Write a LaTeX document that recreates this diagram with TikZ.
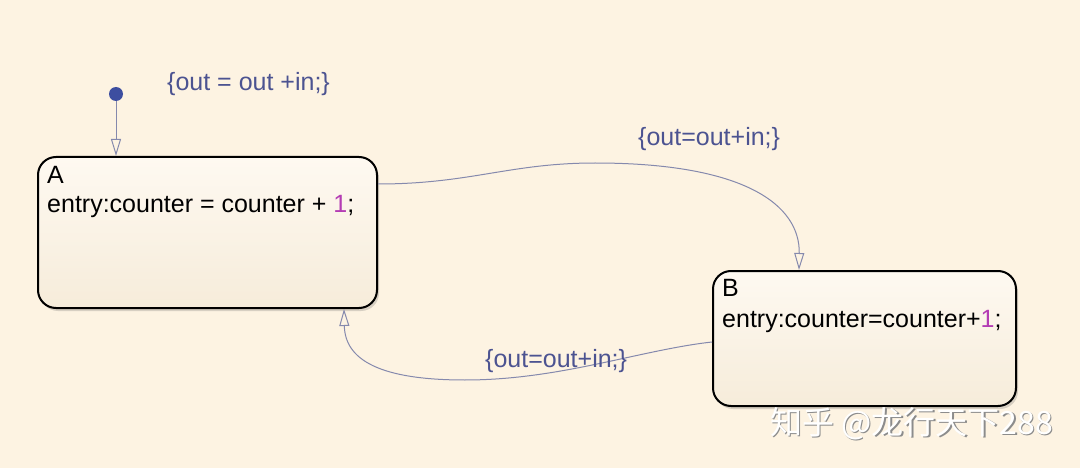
\documentclass[tikz,border=0pt]{standalone}
\usepackage{fontspec}
\setmainfont{Liberation Sans}
\newfontfamily\cjk{Noto Sans CJK SC}
\usetikzlibrary{arrows.meta,shadows,calc}
\definecolor{bgc}{HTML}{FDF3E2}
\definecolor{lblc}{HTML}{4C5391}
\definecolor{linec}{HTML}{8589AD}
\definecolor{dotc}{HTML}{3D4EA0}
\definecolor{numc}{HTML}{B43CB4}
\definecolor{boxtop}{HTML}{FEF9F1}
\definecolor{boxbot}{HTML}{F6ECDA}
\tikzset{
  statebox/.style={draw=black, line width=2pt, rounded corners=18pt, inner sep=0pt,
    top color=boxtop, bottom color=boxbot,
    drop shadow={shadow xshift=2pt, shadow yshift=-3pt, opacity=0.25, fill=black!60}},
  txt/.style={anchor=base west, inner sep=0pt, font=\fontsize{25}{30}\selectfont},
  lbl/.style={txt, text=lblc},
  trans/.style={draw=linec, line width=1pt, -{Triangle[open, length=17pt, width=10pt, fill=bgc]}},
  wmark/.style={anchor=base west, inner sep=0pt, font=\cjk\fontsize{32}{38}\selectfont},
}
\begin{document}
\begin{tikzpicture}[x=1pt,y=-1pt]
\fill[bgc] (0,0) rectangle (1080,468);
\useasboundingbox (0,0) rectangle (1080,468);

% states
\node[statebox, minimum width=339pt, minimum height=151pt] (A) at (207.5,232.5) {};
\node[statebox, minimum width=303pt, minimum height=135pt] (B) at (864.5,338.5) {};

\node[txt] (Aname) at (47,184) {A};
\node[txt] (Aentry) at (47,213) {entry:counter = counter + \textcolor{numc}{1};};
\node[txt] (Bname) at (722,296) {B};
\node[txt] (Bentry) at (722,327) {entry:counter=counter+\textcolor{numc}{1};};

% initial transition
\node[circle, fill=dotc, inner sep=0pt, minimum size=14pt] (init) at (116,94) {};
\draw[trans] (init) -- (init |- A.north);
\node[lbl] (l0) at (167,91) {\{out = out +in;\}};

% A -> B
\coordinate (aout) at ($(A.east)+(0,-48.5)$);
\coordinate (bin) at ($(B.north west)+(87,0)$);
\draw[trans] (aout) .. controls (470,184) and (510,163) .. (595,163)
  .. controls (745,163) and (800,205) .. (bin);
\node[lbl] (l1) at (638,146) {\{out=out+in;\}};

% B -> A
\coordinate (bout) at ($(B.west)+(0,3.5)$);
\coordinate (ain) at ($(A.south west)+(307,0)$);
\draw[trans] (bout) .. controls (640,350) and (560,380) .. (465,380)
  .. controls (380,380) and (345,360) .. (ain);
\node[lbl] (l2) at (485,367) {\{out=out+in;\}};

% watermark
\node[wmark, text=black!45] (wms) at (771.5,435.5) {知乎 @龙行天下288};
\node[wmark, text=white] (wm) at (770,434) {知乎 @龙行天下288};
\end{tikzpicture}
\end{document}
